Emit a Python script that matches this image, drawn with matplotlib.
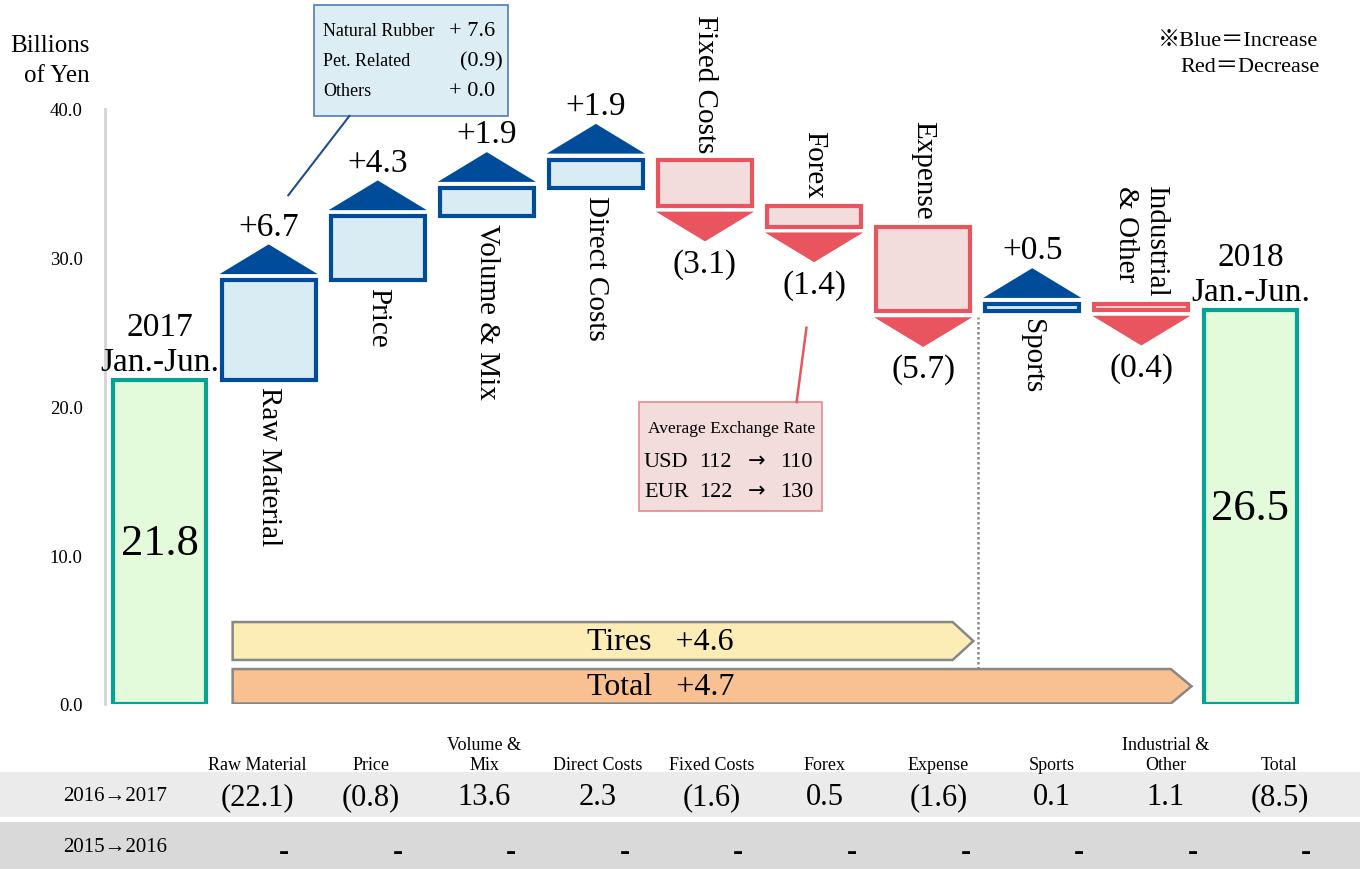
import matplotlib.pyplot as plt
from matplotlib.patches import Rectangle, Polygon

plt.rcParams['font.family'] = ['Liberation Serif', 'DejaVu Serif']

# operating profit bridge, billions of yen
start_label = "2017\nJan.-Jun."
end_label = "2018\nJan.-Jun."
start_value = 21.8
end_value = 26.5
steps = ["Raw Material", "Price", "Volume & Mix", "Direct Costs", "Fixed Costs",
         "Forex", "Expense", "Sports", "Industrial\n& Other"]
deltas = [6.7, 4.3, 1.9, 1.9, -3.1, -1.4, -5.7, 0.5, -0.4]
tires_change = 4.6
total_change = 4.7

# raw material breakdown and exchange rates
rubber_items = ["Natural Rubber", "Pet. Related", "Others"]
rubber_values = ["+ 7.6", "(0.9)", "+ 0.0"]
fx_title = "Average Exchange Rate"
fx_currencies = ["USD", "EUR"]
fx_before = ["112", "122"]
fx_after = ["110", "130"]

# previous periods table
table_cols = ["Raw Material", "Price", "Volume &\nMix", "Direct Costs", "Fixed Costs",
              "Forex", "Expense", "Sports", "Industrial &\nOther", "Total"]
row_labels = ["2016\u21922017", "2015\u21922016"]
row_2017 = ["(22.1)", "(0.8)", "13.6", "2.3", "(1.6)", "0.5", "(1.6)", "0.1", "1.1", "(8.5)"]
row_2016 = ["-"] * 10

BLUE = "#004C9B"
BLUE_FILL = "#DAECF3"
RED = "#E8555F"
RED_FILL = "#F2DCDC"
GREEN = "#06A394"
GREEN_FILL = "#E3FBDA"

W, H = 1365, 870
fig = plt.figure(figsize=(W / 100, H / 100), dpi=100)
ax = fig.add_axes([105 / W, 1 - 705 / H, 1200 / W, 595 / H])
ax.set_xlim(-0.5, 10.5)
ax.set_ylim(0, 40)
for s in ["top", "right", "bottom"]:
    ax.spines[s].set_visible(False)
ax.spines["left"].set_color("#D4D4D4")
ax.spines["left"].set_linewidth(2)
ax.set_xticks([])
ax.set_yticks([0, 10, 20, 30, 40])
ax.set_yticklabels([f"{v:.1f}" for v in [0, 10, 20, 30, 40]], fontsize=13.5)
ax.tick_params(axis="y", length=0, pad=16)

bw = 0.86      # box width
tw = 0.9       # triangle width
tri_h = 2.0
gap = 0.4

# start and end bars
for x, val, lab in [(0, start_value, start_label), (10, end_value, end_label)]:
    ax.add_patch(Rectangle((x - bw / 2, 0), bw, val, fc=GREEN_FILL, ec=GREEN, lw=3,
                           joinstyle="miter"))
    ax.text(x, val / 2 - 0.1, f"{val:.1f}", ha="center", va="center", fontsize=32)
    ax.text(x, val + 0.2, lab, ha="center", va="bottom", fontsize=24, clip_on=False)

level = start_value
for i, (name, d) in enumerate(zip(steps, deltas), start=1):
    lo, hi = sorted([level, level + d])
    up = d > 0
    ax.add_patch(Rectangle((i - bw / 2, lo), bw, hi - lo,
                           fc=BLUE_FILL if up else RED_FILL, ec=BLUE if up else RED,
                           lw=3, joinstyle="miter", clip_on=False))
    if up:
        base = hi + gap
        ax.add_patch(Polygon([(i - tw / 2, base), (i + tw / 2, base), (i, base + tri_h)],
                             closed=True, color=BLUE, lw=0, clip_on=False))
        ax.text(i, base + tri_h + 0.65, f"+{d:.1f}", ha="center", va="baseline",
                fontsize=24, clip_on=False)
        ax.text(i, lo - 0.45, name, rotation=270, ha="center", va="top", fontsize=21)
    else:
        base = lo - gap
        ax.add_patch(Polygon([(i - tw / 2, base), (i + tw / 2, base), (i, base - tri_h)],
                             closed=True, color=RED, lw=0))
        ax.text(i, base - tri_h - 0.45, f"({-d:.1f})", ha="center", va="top", fontsize=24)
        ax.text(i, hi + 0.5, name, rotation=270, ha="center", va="bottom", fontsize=21,
                multialignment="left", clip_on=False)
    level += d

# divider between tire and other businesses
ax.plot([7.5, 7.5], [2.35, 26.0], color="#8A8A8A", lw=1.8, ls=(0, (1, 1)))


def band_arrow(first, last, y0, y1, fc, text):
    x0, xs, xt = first - 0.33, last + 0.27, last + 0.46
    ym = (y0 + y1) / 2
    ax.add_patch(Polygon([(x0, y0), (xs, y0), (xt, ym), (xs, y1), (x0, y1)], closed=True,
                         fc=fc, ec="#878787", lw=1.8))
    ax.text(4.59, ym, text, ha="center", va="center", fontsize=23)


band_arrow(1, 7, 2.96, 5.51, "#FBEDB5", f"Tires   +{tires_change:.1f}")
band_arrow(1, 9, 0.03, 2.35, "#F9C191", f"Total   +{total_change:.1f}")

# raw material callout
ax.add_patch(Rectangle((1.42, 39.53), 1.77, 7.45, fc="#DCEDF3", ec="#4F7DB8", lw=1.2,
                       clip_on=False))
for k, (item, val) in enumerate(zip(rubber_items, rubber_values)):
    yb = 44.97 - 2.02 * k
    ax.text(1.50, yb, item, ha="left", va="baseline", fontsize=13, clip_on=False)
    ax.text(3.15 if val.startswith("(") else 3.08, yb, val, ha="right", va="baseline",
            fontsize=16, clip_on=False)
ax.plot([1.74, 1.18], [39.53, 34.2], color="#1F4E8C", lw=1.5, clip_on=False)

# exchange rate callout
ax.add_patch(Rectangle((4.395, 12.97), 1.675, 7.33, fc=RED_FILL, ec="#E88A92", lw=1.2))
ax.plot([5.84, 5.93], [20.3, 25.3], color=RED, lw=1.8)
ax.text(5.24, 18.29, fx_title, ha="center", va="baseline", fontsize=12.5)
for k, (cur, a, b) in enumerate(zip(fx_currencies, fx_before, fx_after)):
    yb = 16.0 - 2.02 * k
    ax.text(4.44, yb, cur, ha="left", va="baseline", fontsize=16)
    ax.text(4.95, yb, a, ha="left", va="baseline", fontsize=16)
    ax.text(5.47, yb, "\u2192", ha="center", va="baseline", fontsize=15,
            family="DejaVu Sans")
    ax.text(5.99, yb, b, ha="right", va="baseline", fontsize=16)

# unit label and colour key
fig.text(90 / W, 1 - 52 / H, "Billions", ha="right", va="baseline", fontsize=18)
fig.text(90 / W, 1 - 82 / H, "of Yen", ha="right", va="baseline", fontsize=18)
key_font = ["Liberation Serif", "Noto Sans CJK JP"]
fig.text(1318 / W, 1 - 46 / H, "\u203bBlue\uff1dIncrease", ha="right", va="baseline",
         fontsize=16, family=key_font)
fig.text(1320 / W, 1 - 72 / H, "Red\uff1dDecrease", ha="right", va="baseline",
         fontsize=16, family=key_font)

# comparison table below the chart
fig.add_artist(Rectangle((0, 1 - 818 / H), 1360 / W, 45 / H, transform=fig.transFigure,
                         fc="#EBEBEB", ec="none", zorder=0))
fig.add_artist(Rectangle((0, 0), 1360 / W, 47 / H, transform=fig.transFigure,
                         fc="#D9D9D9", ec="none", zorder=0))
col_x0, col_dx = 257 / W, 113.6 / W
for k, col in enumerate(table_cols):
    cx = col_x0 + k * col_dx
    fig.text(cx, 1 - 770 / H, col, ha="center", va="baseline", fontsize=13)
    fig.text(cx, 1 - 798 / H, row_2017[k], ha="center", va="center", fontsize=22)
    fig.text(cx + 27 / W, 1 - 853 / H, row_2016[k], ha="center", va="center", fontsize=22,
             fontweight="bold")
fig.text(115 / W, 1 - 797 / H, row_labels[0], ha="center", va="center", fontsize=15)
fig.text(115 / W, 1 - 848 / H, row_labels[1], ha="center", va="center", fontsize=15)

fig.savefig("out.png", dpi=100)
